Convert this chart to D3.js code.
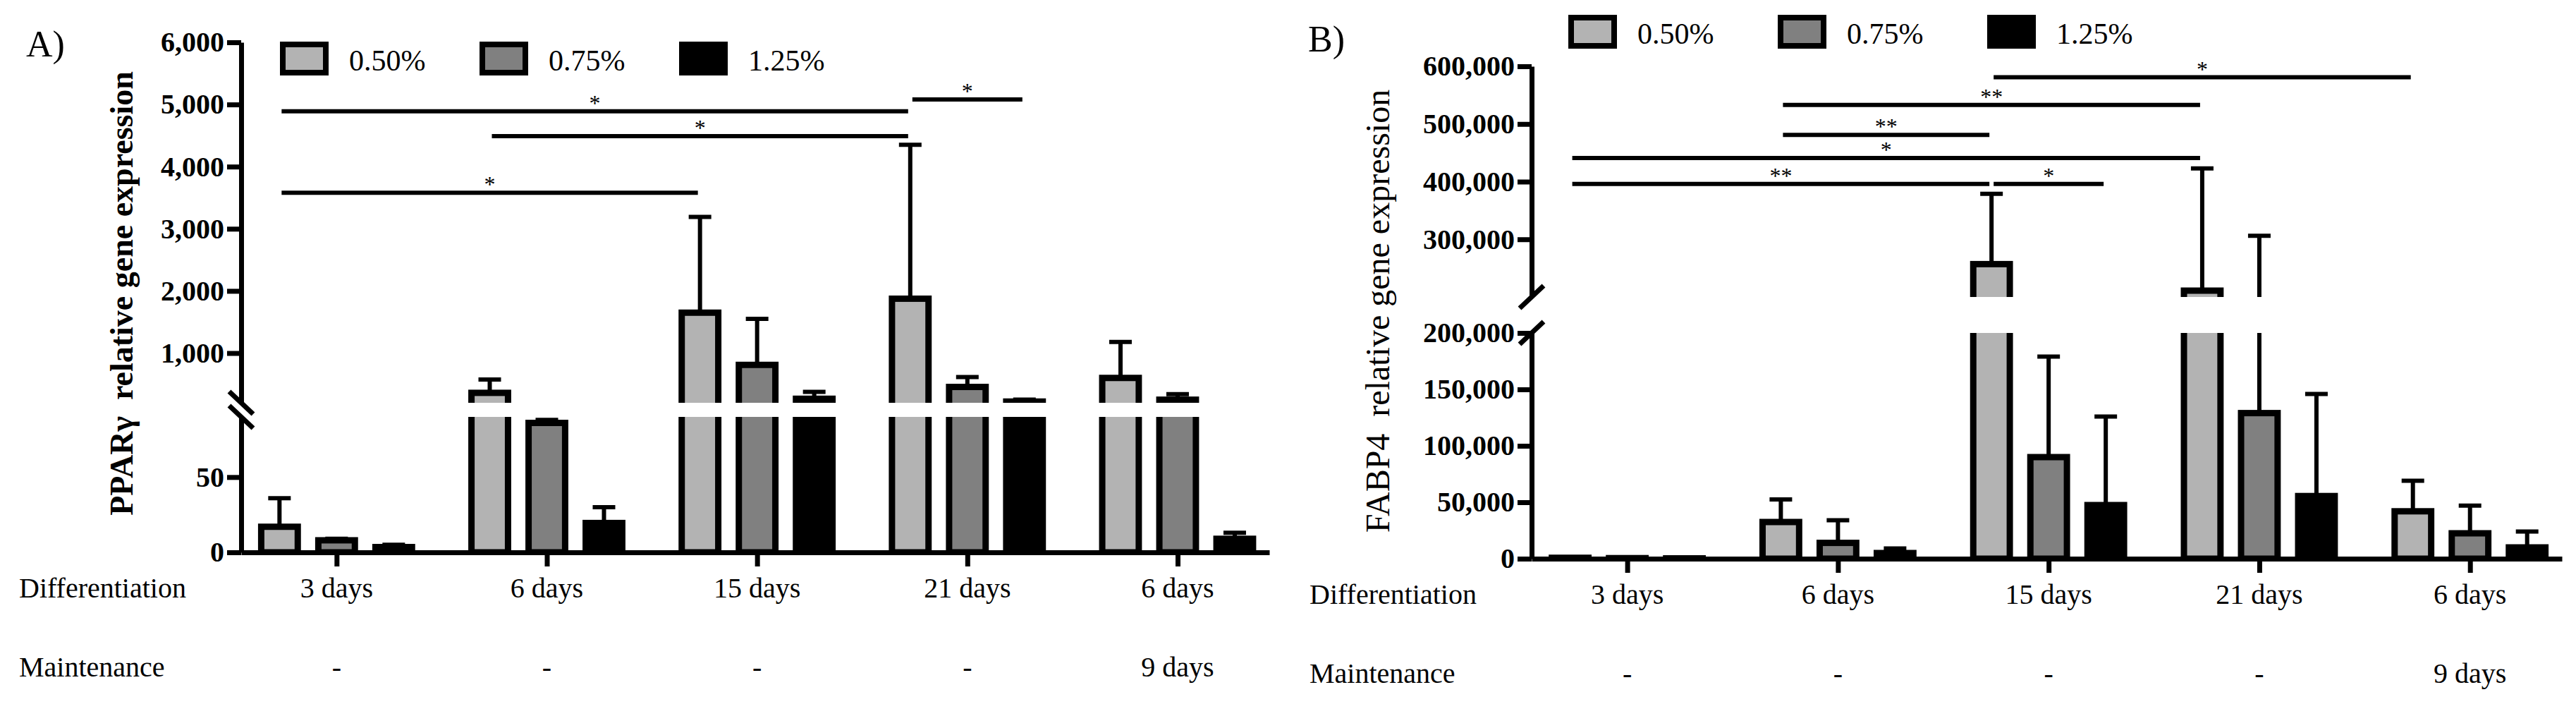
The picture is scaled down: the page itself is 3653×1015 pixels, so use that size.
<!DOCTYPE html>
<html>
<head>
<meta charset="utf-8">
<script src="https://cdn.jsdelivr.net/npm/d3@7"></script>
<style>
	body { margin: 0; background: #fff; }
	svg text { font-family: 'Liberation Serif', 'DejaVu Serif', serif; fill: #000; }
</style>
</head>
<body>
<div id="chart"></div>
<script>
// categories
const groupLabels = ['3 days', '6 days', '15 days', '21 days', '6 days'];
const maintenanceLabels = ['-', '-', '-', '-', '9 days'];
const seriesNames = ['0.50%', '0.75%', '1.25%'];
const seriesColors = ['#b3b3b3', '#808080', '#000000'];

// A) PPARγ relative gene expression, mean and SD
const pparMean050 = [17, 360, 1650, 1875, 600];
const pparSd050 = [19, 215, 1540, 2475, 580];
const pparMean075 = [8, 86, 810, 455, 250];
const pparSd075 = [1, 2, 740, 160, 90];
const pparMean125 = [3.5, 19.5, 265, 220, 9];
const pparSd125 = [1.5, 10.5, 110, 32, 4];

// B) FABP4 relative gene expression, mean and SD
const fabpMean050 = [800, 32500, 257000, 211000, 42000];
const fabpSd050 = [400, 20000, 122000, 212000, 27000];
const fabpMean075 = [500, 14000, 90000, 129000, 22500];
const fabpSd075 = [300, 20000, 89000, 177000, 24500];
const fabpMean125 = [300, 5000, 47500, 55500, 10000];
const fabpSd125 = [200, 4000, 78500, 90500, 14000];

// broken y axes: upper / lower segment domains and tick labels
const pparUpperDomain = [200, 6000];
const pparLowerDomain = [0, 90];
const pparUpperTicks = [1000, 2000, 3000, 4000, 5000, 6000];
const pparLowerTicks = [0, 50];
const fabpUpperDomain = [200000, 600000];
const fabpLowerDomain = [0, 200000];
const fabpUpperTicks = [300000, 400000, 500000, 600000];
const fabpLowerTicks = [0, 50000, 100000, 150000, 200000];

// significance lines: [from group, from series, to group, to series, level, label]
const pparSig = [
	[0, 0, 3, 0, 4890, '*'],
	[1, 0, 3, 0, 4490, '*'],
	[0, 0, 2, 0, 3580, '*'],
	[3, 0, 3, 2, 5080, '*']
];
const fabpSig = [
	[2, 0, 4, 0, 581000, '*'],
	[1, 0, 3, 0, 533000, '**'],
	[1, 0, 2, 0, 481000, '**'],
	[0, 0, 3, 0, 441000, '*'],
	[0, 0, 2, 0, 396000, '**'],
	[2, 0, 2, 2, 396000, '*']
];

let svg = d3.select('#chart').append('svg')
	.attr('width', 3653)
	.attr('height', 1015);

function buildRows(means, sds) {
	let rows = [];
	groupLabels.forEach((label, i) => {
		seriesNames.forEach((name, j) => {
			rows.push({ g: i, s: name, c: seriesColors[j], mean: means[j][i], sd: sds[j][i] });
		});
	});
	return rows;
}

function drawPanel(p) {
	let g = svg.append('g').attr('class', 'panel-' + p.id),
		x0 = d3.scalePoint()
			.domain(d3.range(groupLabels.length))
			.range([p.axisX, p.axisEnd])
			.padding(0.445)
			.align(0.51),
		x1 = d3.scaleBand()
			.domain(seriesNames)
			.range([-121.5, 121.5])
			.paddingInner(0.36)
			.paddingOuter(0.18),
		yUpper = d3.scaleLinear().domain(p.upperDomain).range(p.upperRange),
		yLower = d3.scaleLinear().domain(p.lowerDomain).range(p.lowerRange),
		segments = [
			{ scale: yUpper, ticks: p.upperTicks, top: 0, bottom: p.upperRange[0] },
			{ scale: yLower, ticks: p.lowerTicks, top: p.lowerRange[1], bottom: p.lowerRange[0] }
		],
		rows = buildRows(p.means, p.sds),
		bw = x1.bandwidth(),
		barX = d => x0(d.g) + x1(d.s),
		barC = d => x0(d.g) + x1(d.s) + bw / 2;

	// bars + error bars, drawn once per axis segment and clipped
	segments.forEach((seg, k) => {
		let clipId = 'clip-' + p.id + '-' + k;
		g.append('clipPath').attr('id', clipId)
			.append('rect')
			.attr('x', p.axisX)
			.attr('y', seg.top)
			.attr('width', p.axisEnd - p.axisX + 20)
			.attr('height', seg.bottom - seg.top);

		let sg = g.append('g').attr('clip-path', 'url(#' + clipId + ')'),
			ys = seg.scale;

		sg.selectAll('line.err')
			.data(rows)
			.enter().append('line')
			.attr('class', 'err')
			.attr('x1', barC)
			.attr('x2', barC)
			.attr('y1', d => ys(d.mean))
			.attr('y2', d => ys(d.mean + d.sd))
			.attr('stroke', '#000')
			.attr('stroke-width', 6);

		sg.selectAll('line.cap')
			.data(rows)
			.enter().append('line')
			.attr('class', 'cap')
			.attr('x1', d => barC(d) - 16)
			.attr('x2', d => barC(d) + 16)
			.attr('y1', d => ys(d.mean + d.sd))
			.attr('y2', d => ys(d.mean + d.sd))
			.attr('stroke', '#000')
			.attr('stroke-width', 6);

		sg.selectAll('rect.bar')
			.data(rows)
			.enter().append('rect')
			.attr('class', 'bar')
			.attr('x', barX)
			.attr('width', bw)
			.attr('y', d => ys(d.mean))
			.attr('height', d => Math.max(0, ys(0) - ys(d.mean)))
			.attr('fill', d => d.c)
			.attr('stroke', '#000')
			.attr('stroke-width', 9);
	});

	// y axis segments
	segments.forEach(seg => {
		let ax = g.append('g')
			.attr('transform', 'translate(' + p.axisX + ',0)')
			.call(d3.axisLeft(seg.scale)
				.tickValues(seg.ticks)
				.tickSize(20)
				.tickSizeOuter(0)
				.tickPadding(4)
				.tickFormat(d3.format(',')));
		ax.select('.domain').attr('stroke-width', 7);
		ax.selectAll('.tick line').attr('stroke-width', 7);
		ax.selectAll('.tick text')
			.attr('font-size', 40)
			.attr('font-weight', 'bold')
			.attr('font-family', "'Liberation Serif', serif");
	});

	// axis break marks
	[p.upperRange[0], p.lowerRange[1]].forEach(yb => {
		g.append('line')
			.attr('x1', p.axisX - 17)
			.attr('x2', p.axisX + 17)
			.attr('y1', yb - 16 * p.breakDir)
			.attr('y2', yb + 16 * p.breakDir)
			.attr('stroke', '#000')
			.attr('stroke-width', 7);
	});

	// x axis
	let xa = g.append('g')
		.attr('transform', 'translate(0,' + p.baseY + ')')
		.call(d3.axisBottom(x0).tickSize(20).tickSizeOuter(0).tickFormat(''));
	xa.select('.domain').attr('stroke-width', 7);
	xa.selectAll('.tick line').attr('stroke-width', 7);

	// category rows
	g.selectAll('text.diff')
		.data(groupLabels)
		.enter().append('text')
		.attr('class', 'diff')
		.attr('x', (d, i) => x0(i))
		.attr('y', p.baseY + 64)
		.attr('text-anchor', 'middle')
		.attr('font-size', 40)
		.text(d => d);

	g.selectAll('text.maint')
		.data(maintenanceLabels)
		.enter().append('text')
		.attr('class', 'maint')
		.attr('x', (d, i) => x0(i))
		.attr('y', p.baseY + 176)
		.attr('text-anchor', 'middle')
		.attr('font-size', 40)
		.text(d => d);

	g.append('text')
		.attr('x', p.rowLabelX)
		.attr('y', p.baseY + 64)
		.attr('font-size', 40)
		.text('Differentiation');
	g.append('text')
		.attr('x', p.rowLabelX)
		.attr('y', p.baseY + 176)
		.attr('font-size', 40)
		.text('Maintenance');

	// significance lines
	let sigX = (gi, si) => x0(gi) + x1(seriesNames[si]) + bw / 2;
	p.sig.forEach(s => {
		let xa1 = sigX(s[0], s[1]),
			xa2 = sigX(s[2], s[3]),
			yl = yUpper(s[4]);
		g.append('line')
			.attr('x1', xa1 + 3)
			.attr('x2', xa2 - 3)
			.attr('y1', yl)
			.attr('y2', yl)
			.attr('stroke', '#000')
			.attr('stroke-width', 6);
		g.append('text')
			.attr('x', (xa1 + xa2) / 2)
			.attr('y', yl - 1)
			.attr('text-anchor', 'middle')
			.attr('font-size', 32)
			.text(s[5]);
	});

	// legend
	let lg = g.selectAll('g.legend')
		.data(seriesNames)
		.enter().append('g')
		.attr('class', 'legend')
		.attr('transform', (d, i) => 'translate(' + (p.legendX + i * p.legendStep) + ',' + p.legendY + ')');
	lg.append('rect')
		.attr('x', 4)
		.attr('y', -20)
		.attr('width', 61)
		.attr('height', 40)
		.attr('fill', (d, i) => seriesColors[i])
		.attr('stroke', '#000')
		.attr('stroke-width', 8);
	lg.append('text')
		.attr('x', 98)
		.attr('y', 3)
		.attr('dominant-baseline', 'central')
		.attr('font-size', 42)
		.text(d => d);

	// y title
	g.append('text')
		.attr('transform', 'translate(' + p.titleX + ',' + p.titleY + ') rotate(-90)')
		.attr('text-anchor', 'middle')
		.attr('dominant-baseline', 'central')
		.attr('font-size', p.titleSize)
		.attr('font-weight', p.titleWeight)
		.style('white-space', 'pre')
		.text(p.title);

	// panel letter
	g.append('text')
		.attr('x', p.letterX)
		.attr('y', p.letterY)
		.attr('font-size', 52)
		.text(p.letter);
}

drawPanel({
	id: 'a', letter: 'A)', letterX: 37, letterY: 80,
	axisX: 342, axisEnd: 1800, baseY: 783,
	upperDomain: pparUpperDomain, upperRange: [571, 60], upperTicks: pparUpperTicks,
	lowerDomain: pparLowerDomain, lowerRange: [783, 591], lowerTicks: pparLowerTicks,
	breakDir: 1,
	means: [pparMean050, pparMean075, pparMean125],
	sds: [pparSd050, pparSd075, pparSd125],
	sig: pparSig,
	title: 'PPARγ  relative gene expression', titleX: 172, titleY: 416, titleSize: 46, titleWeight: 'bold',
	legendX: 397, legendStep: 283, legendY: 83,
	rowLabelX: 27
});

drawPanel({
	id: 'b', letter: 'B)', letterX: 1855, letterY: 73,
	axisX: 2172, axisEnd: 3633, baseY: 792,
	upperDomain: fabpUpperDomain, upperRange: [421, 94], upperTicks: fabpUpperTicks,
	lowerDomain: fabpLowerDomain, lowerRange: [792, 472], lowerTicks: fabpLowerTicks,
	breakDir: -1,
	means: [fabpMean050, fabpMean075, fabpMean125],
	sds: [fabpSd050, fabpSd075, fabpSd125],
	sig: fabpSig,
	title: 'FABP4  relative gene expression', titleX: 1953, titleY: 441, titleSize: 48, titleWeight: 'normal',
	legendX: 2224, legendStep: 297, legendY: 45,
	rowLabelX: 1857
});
</script>
</body>
</html>
